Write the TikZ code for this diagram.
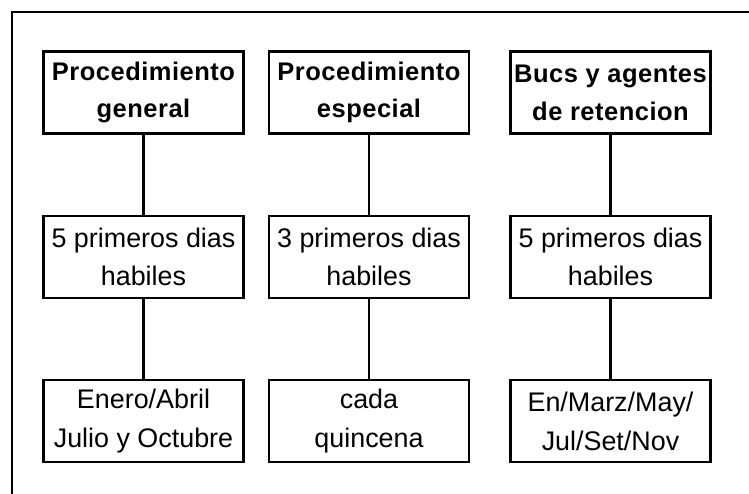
\documentclass[tikz,border=0pt]{standalone}
\usepackage{fontspec}
\setmainfont{Liberation Sans}
\usetikzlibrary{positioning}

\begin{document}
\begin{tikzpicture}[
    node distance=1.6cm and 0.5cm,
    head/.style={rectangle, draw=black, line width=1.3pt, minimum width=4cm,
                 minimum height=1.64cm, align=center, inner sep=1pt,
                 font=\fontsize{14.5}{21.5}\selectfont\bfseries\addfontfeatures{LetterSpace=2}},
    info/.style={rectangle, draw=black, line width=1.3pt, minimum width=4cm,
                 minimum height=1.64cm, align=center, inner sep=1pt,
                 font=\fontsize{15.3}{22}\selectfont},
    link/.style={line width=1.2pt, black}
]
    \useasboundingbox (0,0) rectangle (14.98,-9.88);
    % Frame
    \draw[line width=1.4pt] (0.24,-9.88) -- (0.24,-0.24) -- (14.98,-0.24);

    % Heads
    \node[head] (gen) at (2.87,-1.85) {Procedimiento\\general};
    \node[head] (esp) at (7.38,-1.85) {Procedimiento\\especial};
    \node[head] (bucs) at (12.21,-1.85) {Bucs y agentes\\de retencion};

    % Days
    \node[info, below=of gen] (gen-dias) {5 primeros dias\\habiles};
    \node[info, below=of esp] (esp-dias) {3 primeros dias\\habiles};
    \node[info, below=of bucs] (bucs-dias) {5 primeros dias\\habiles};

    % Months
    \node[info, below=of gen-dias] (gen-mes) {Enero/Abril\\Julio y Octubre};
    \node[info, below=of esp-dias] (esp-mes) {cada\\quincena};
    \node[info, below=of bucs-dias] (bucs-mes) {En/Marz/May/\\Jul/Set/Nov};

    % Lines
    \draw[link] (gen) -- (gen-dias);
    \draw[link] (esp) -- (esp-dias);
    \draw[link] (bucs) -- (bucs-dias);
    \draw[link] (gen-dias) -- (gen-mes);
    \draw[link] (esp-dias) -- (esp-mes);
    \draw[link] (bucs-dias) -- (bucs-mes);
\end{tikzpicture}
\end{document}
